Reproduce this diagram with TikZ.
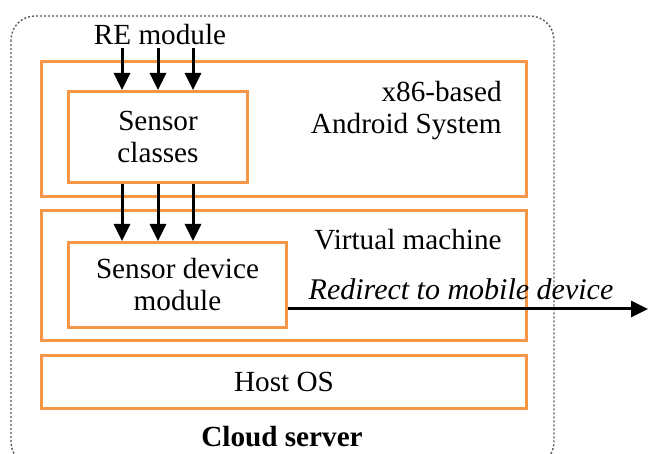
\documentclass[tikz,border=0pt]{standalone}
\usepackage{fontspec}
\setmainfont{Liberation Serif}
\usepackage{xcolor}
\usetikzlibrary{arrows.meta}
\definecolor{color1}{RGB}{247,150,70}

\begin{document}
\begin{tikzpicture}[x=0.5pt,y=-0.5pt,
  font=\fontsize{14.6}{16}\selectfont,
  layer/.style={draw=color1,line width=1.5pt,inner sep=0pt,anchor=north west},
  flow/.style={line width=1.5pt,-{Triangle[width=8pt,length=8.5pt]}},
  txt/.style={inner sep=0pt,align=center}]
\useasboundingbox (0,0) rectangle (648,454);

\draw[gray!70!black,line width=0.7pt,dash pattern=on 1pt off 1pt,rounded corners=12pt]
  (11,16) rectangle (554,466);

\node[layer,minimum width=242.5pt,minimum height=67.5pt] (android) at (40,60) {};
\node[layer,minimum width=89.5pt,minimum height=45.5pt] (sensorcls) at (67,90) {};
\node[layer,minimum width=242.5pt,minimum height=65pt] (vm) at (40,209) {};
\node[layer,minimum width=109pt,minimum height=42.5pt] (sdm) at (67,241) {};
\node[layer,minimum width=242.5pt,minimum height=26.5pt] (hostos) at (40,354) {};

\node[txt] (re) at (160,35) {RE module};
\node[txt] at (sensorcls.center) {Sensor\\classes};
\node[txt,align=right,anchor=east] at (502,111) {x86-based\\Android System};
\node[txt,anchor=east] at (502,240) {Virtual machine};
\node[txt] at (sdm.center) {Sensor device\\module};
\node[txt] at (hostos.center) {Host OS};
\node[txt,font=\fontsize{14.6}{16}\selectfont\bfseries] (cloud) at (282,437) {Cloud server};

\foreach \x in {122,158,193} {
  \draw[flow] (\x,48) -- (\x,0 |- sensorcls.north);
  \draw[flow] (\x,0 |- sensorcls.south) -- (\x,0 |- sdm.north);
}

\coordinate (mobile) at (648,309);
\draw[flow] (mobile -| sdm.east) -- (mobile);
\node[txt,font=\fontsize{15}{16}\selectfont\itshape] (redirect) at (461,289) {Redirect to mobile device};
\end{tikzpicture}
\end{document}
